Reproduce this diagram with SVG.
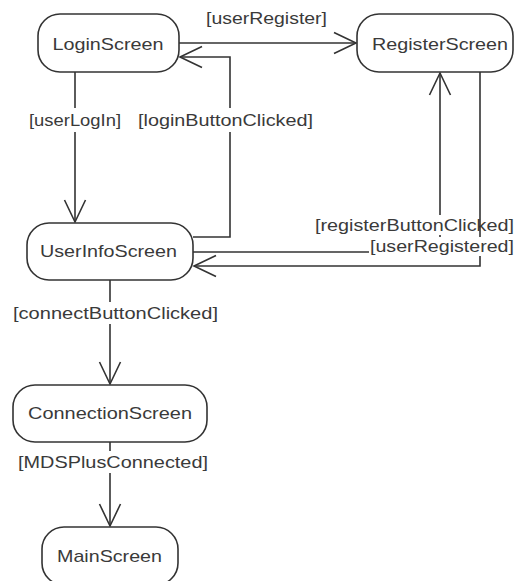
<svg xmlns="http://www.w3.org/2000/svg" width="515" height="581" viewBox="0 0 515 581">
  <style>
    .state rect { fill: #ffffff; stroke: #333333; stroke-width: 1.6; }
    .state text { font-family: "Liberation Sans", Arial, sans-serif; font-size: 17px; fill: #3a3a3a; text-anchor: middle; }
    .edge path { fill: none; stroke: #333333; stroke-width: 1.6; }
    .edge text { font-family: "Liberation Sans", Arial, sans-serif; font-size: 17px; fill: #3a3a3a; }
    .bg { fill: #ffffff; }
  </style>
  <defs>
    <marker id="open-arrow" markerUnits="userSpaceOnUse" viewBox="-24 -12 26 24" refX="0" refY="0" markerWidth="26" markerHeight="24" orient="auto">
      <path d="M-22,-10.5 L0,0 L-22,10.5" fill="none" stroke="#333333" stroke-width="1.6"/>
    </marker>
  </defs>

  <!-- transitions -->
  <g id="connectors">
    <g class="edge" id="e-userRegister">
      <path d="M179,43 H356" marker-end="url(#open-arrow)"/>
      <text x="206" y="24" textLength="121" lengthAdjust="spacingAndGlyphs">[userRegister]</text>
    </g>
    <g class="edge" id="e-loginButtonClicked">
      <path d="M193,237 H230 V57 H180" marker-end="url(#open-arrow)"/>
      <rect class="bg" x="136" y="108" width="180" height="24"/>
      <text x="138" y="126" textLength="175" lengthAdjust="spacingAndGlyphs">[loginButtonClicked]</text>
    </g>
    <g class="edge" id="e-userLogIn">
      <path d="M75,72 V222" marker-end="url(#open-arrow)"/>
      <rect class="bg" x="28" y="108" width="95" height="24"/>
      <text x="29" y="126" textLength="92" lengthAdjust="spacingAndGlyphs">[userLogIn]</text>
    </g>
    <g class="edge" id="e-registerButtonClicked">
      <path d="M193,252 H440 V73" marker-end="url(#open-arrow)"/>
      <rect class="bg" x="313" y="215" width="202" height="20"/>
      <text x="315" y="231" textLength="199" lengthAdjust="spacingAndGlyphs">[registerButtonClicked]</text>
    </g>
    <g class="edge" id="e-userRegistered">
      <path d="M480,72 V266 H194" marker-end="url(#open-arrow)"/>
      <rect class="bg" x="369" y="237" width="146" height="19"/>
      <text x="370" y="252" textLength="144" lengthAdjust="spacingAndGlyphs">[userRegistered]</text>
    </g>
    <g class="edge" id="e-connectButtonClicked">
      <path d="M110,280 V384" marker-end="url(#open-arrow)"/>
      <rect class="bg" x="11" y="302" width="210" height="22"/>
      <text x="13" y="319" textLength="205" lengthAdjust="spacingAndGlyphs">[connectButtonClicked]</text>
    </g>
    <g class="edge" id="e-MDSPlusConnected">
      <path d="M110,442 V526" marker-end="url(#open-arrow)"/>
      <rect class="bg" x="16" y="451" width="194" height="22"/>
      <text x="18" y="468" textLength="190" lengthAdjust="spacingAndGlyphs">[MDSPlusConnected]</text>
    </g>
  </g>

  <!-- states -->
  <g class="state" id="LoginScreen">
    <rect x="38" y="14" width="141" height="58" rx="22" ry="22"/>
    <text x="108" y="50" textLength="111" lengthAdjust="spacingAndGlyphs">LoginScreen</text>
  </g>
  <g class="state" id="RegisterScreen">
    <rect x="357" y="14" width="156" height="58" rx="22" ry="22"/>
    <text x="440" y="50" textLength="136" lengthAdjust="spacingAndGlyphs">RegisterScreen</text>
  </g>
  <g class="state" id="UserInfoScreen">
    <rect x="27" y="223" width="166" height="57" rx="22" ry="22"/>
    <text x="108.5" y="257" textLength="137" lengthAdjust="spacingAndGlyphs">UserInfoScreen</text>
  </g>
  <g class="state" id="ConnectionScreen">
    <rect x="13" y="385" width="194" height="57" rx="22" ry="22"/>
    <text x="110" y="419" textLength="164" lengthAdjust="spacingAndGlyphs">ConnectionScreen</text>
  </g>
  <g class="state" id="MainScreen">
    <rect x="42" y="527" width="136" height="58" rx="22" ry="22"/>
    <text x="109.5" y="562" textLength="105" lengthAdjust="spacingAndGlyphs">MainScreen</text>
  </g>
</svg>
